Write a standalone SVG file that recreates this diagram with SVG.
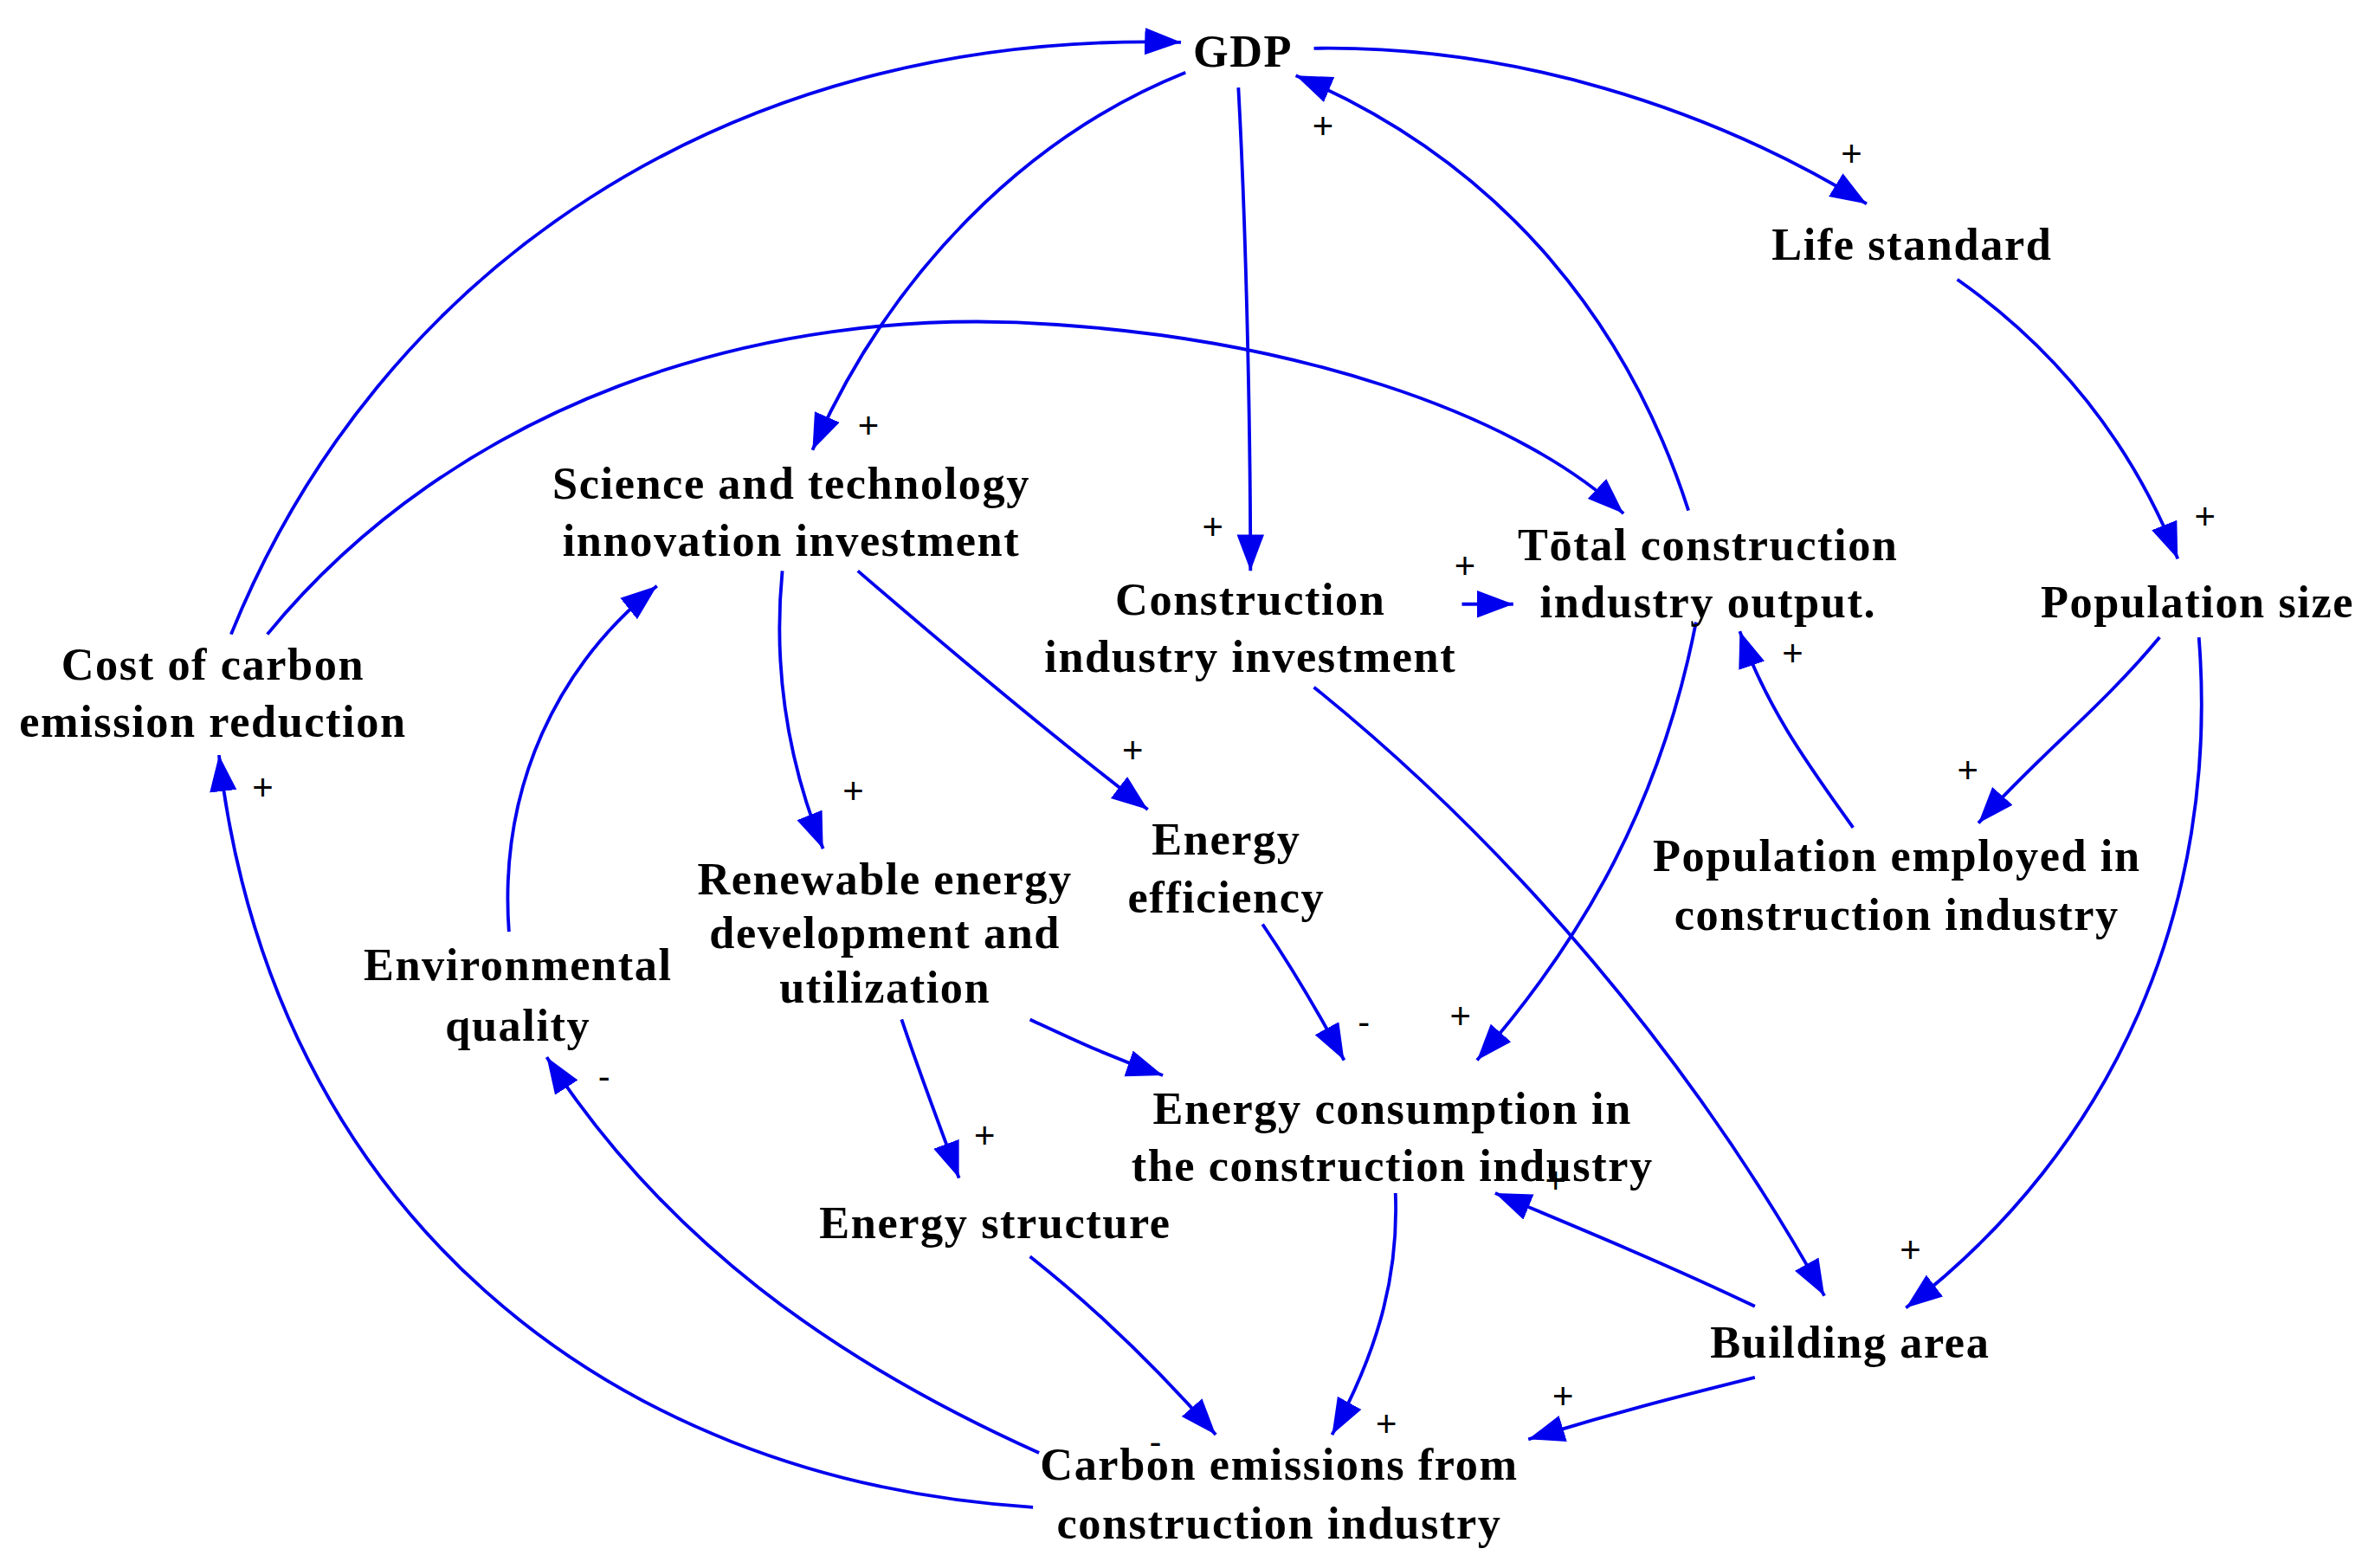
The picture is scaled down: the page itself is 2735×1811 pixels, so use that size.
<svg xmlns="http://www.w3.org/2000/svg" width="2735" height="1811" viewBox="0 0 2735 1811">
<style>
.n{font-family:"Liberation Serif",serif;font-weight:bold;font-size:30px;letter-spacing:0.9px;text-anchor:middle;fill:#000}
.s{font-family:"Liberation Sans",sans-serif;font-size:24px;text-anchor:middle;fill:#000}
.c path{fill:none;stroke:#0000ee;stroke-width:2.2;marker-end:url(#a)}
</style>
<defs>
<marker id="a" markerUnits="userSpaceOnUse" markerWidth="26" markerHeight="20" refX="24" refY="9" orient="auto">
<path d="M0,0 L24,9 L0,18 Z" fill="#0000ee"/>
</marker>
</defs>
<rect width="2735" height="1811" fill="#fff"/>
<g transform="scale(1.7443)">
<g class="c" id="connectors">
<path d="M153,420 C250,180 480,20 782,28"/>
<path d="M785,48 C680,90 590,180 538,298"/>
<path d="M820,58 C825,150 828,280 828,378"/>
<path d="M1118,338 C1080,220 1000,110 858,50"/>
<path d="M870,32 C1000,30 1130,70 1236,135"/>
<path d="M1296,185 C1360,230 1410,290 1442,370"/>
<path d="M177,420 C300,270 500,200 700,215 C850,225 1000,270 1075,340"/>
<path d="M968,400 L1002,400"/>
<path d="M1227,548 C1200,510 1170,470 1152,418"/>
<path d="M1430,422 C1390,470 1350,500 1310,545"/>
<path d="M1456,422 C1470,600 1400,760 1262,866"/>
<path d="M870,455 C1000,560 1120,700 1208,858"/>
<path d="M1123,412 C1100,530 1050,620 978,702"/>
<path d="M518,378 C512,440 520,500 545,562"/>
<path d="M568,378 C640,440 700,490 760,536"/>
<path d="M337,617 C330,520 370,440 435,388"/>
<path d="M836,612 C855,640 870,665 890,702"/>
<path d="M682,675 C710,688 735,700 770,712"/>
<path d="M597,675 C607,705 620,740 635,780"/>
<path d="M1162,865 C1110,840 1050,815 990,790"/>
<path d="M924,790 C926,840 915,890 882,950"/>
<path d="M682,832 C730,870 770,910 805,950"/>
<path d="M1162,912 C1110,925 1070,935 1012,953"/>
<path d="M688,962 C550,900 440,820 362,700"/>
<path d="M684,998 C400,980 180,800 145,500"/>
</g>
<g id="polarity">
<text class="s" x="876" y="92">+</text>
<text class="s" x="1226" y="110">+</text>
<text class="s" x="1460" y="350">+</text>
<text class="s" x="575" y="290">+</text>
<text class="s" x="803" y="357">+</text>
<text class="s" x="970" y="383">+</text>
<text class="s" x="1187" y="441">+</text>
<text class="s" x="1303" y="518">+</text>
<text class="s" x="1265" y="836">+</text>
<text class="s" x="967" y="681">+</text>
<text class="s" x="565" y="532">+</text>
<text class="s" x="750" y="505">+</text>
<text class="s" x="903" y="685">-</text>
<text class="s" x="652" y="760">+</text>
<text class="s" x="1030" y="790">+</text>
<text class="s" x="918" y="951">+</text>
<text class="s" x="765" y="963">-</text>
<text class="s" x="1035" y="933">+</text>
<text class="s" x="400" y="721">-</text>
<text class="s" x="174" y="530">+</text>
</g>
<g id="gdp"><text class="n" x="823" y="44">GDP</text></g>
<g id="life"><text class="n" x="1266" y="172">Life standard</text></g>
<g id="science"><text class="n" x="524" y="330">Science and technology</text><text class="n" x="524" y="368">innovation investment</text></g>
<g id="cinv"><text class="n" x="828" y="407">Construction</text><text class="n" x="828" y="445">industry investment</text></g>
<g id="total"><text class="n" x="1131" y="371">Tōtal construction</text><text class="n" x="1131" y="409">industry output.</text></g>
<g id="pop"><text class="n" x="1455" y="409">Population size</text></g>
<g id="cost"><text class="n" x="141" y="450">Cost of carbon</text><text class="n" x="141" y="488">emission reduction</text></g>
<g id="eff"><text class="n" x="812" y="566">Energy</text><text class="n" x="812" y="604">efficiency</text></g>
<g id="renew"><text class="n" x="586" y="592">Renewable energy</text><text class="n" x="586" y="628">development and</text><text class="n" x="586" y="664">utilization</text></g>
<g id="popemp"><text class="n" x="1256" y="577">Population employed in</text><text class="n" x="1256" y="616">construction industry</text></g>
<g id="env"><text class="n" x="343" y="649">Environmental</text><text class="n" x="343" y="689">quality</text></g>
<g id="econs"><text class="n" x="922" y="744">Energy consumption in</text><text class="n" x="922" y="782">the construction industry</text></g>
<g id="estruct"><text class="n" x="659" y="820">Energy structure</text></g>
<g id="building"><text class="n" x="1225" y="899">Building area</text></g>
<g id="carbon"><text class="n" x="847" y="980">Carbon emissions from</text><text class="n" x="847" y="1019">construction industry</text></g>
</g>
</svg>
